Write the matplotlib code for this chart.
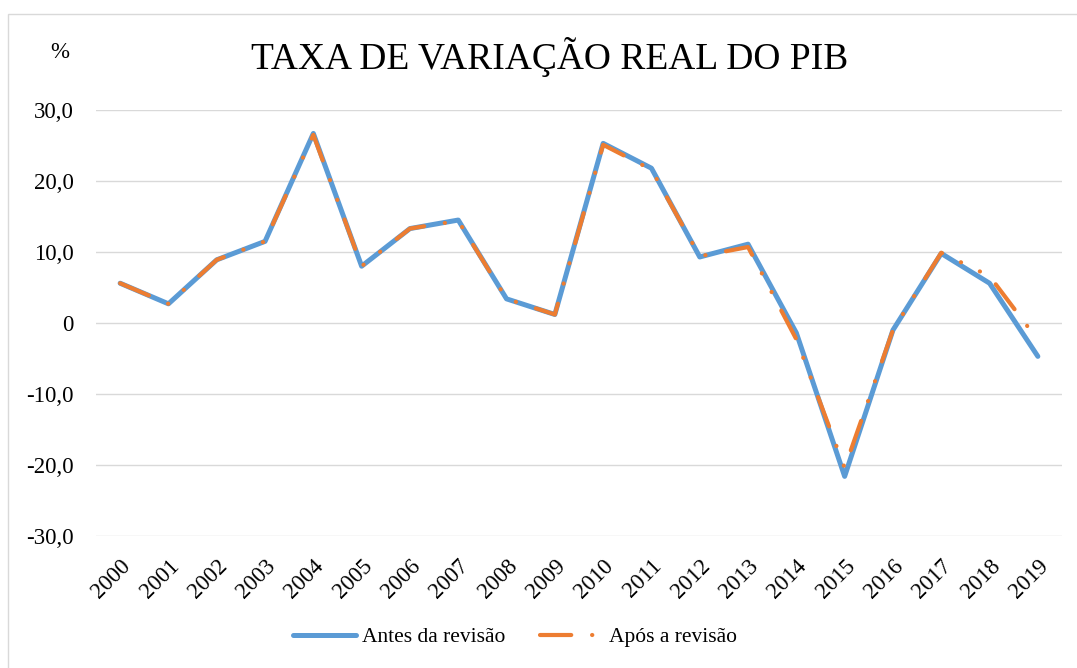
import matplotlib
matplotlib.use("Agg")
import matplotlib.pyplot as plt
from matplotlib.patches import Rectangle

plt.rcParams["font.family"] = ["Liberation Serif", "DejaVu Serif"]

years = [str(y) for y in range(2000, 2020)]
antes = [5.6, 2.7, 8.9, 11.5, 26.7, 8.0, 13.3, 14.5, 3.4, 1.2,
         25.3, 21.8, 9.3, 11.1, -1.4, -21.6, -1.0, 9.8, 5.6, -4.7]
apos = [5.6, 2.7, 8.9, 11.5, 26.5, 8.0, 13.3, 14.4, 3.4, 1.2,
        25.1, 21.6, 9.4, 10.7, -2.3, -20.4, -1.0, 9.9, 6.6, -2.4]
yticks = [-30, -20, -10, 0, 10, 20, 30]
ytick_labels = ["-30,0", "-20,0", "-10,0", "0", "10,0", "20,0", "30,0"]

BLUE = "#5B9BD5"
ORANGE = "#ED7D31"
GRID = "#D9D9D9"

fig = plt.figure(figsize=(10.77, 6.68), dpi=100)
# outer chart frame (only left/top edges fall inside the crop)
fig.patches.append(Rectangle((8 / 1077, -0.02), 1.05, 1 - 14 / 668 + 0.02,
                             transform=fig.transFigure, fill=False,
                             edgecolor=GRID, linewidth=1.0))

ax = fig.add_axes([96 / 1077, 1 - 536 / 668, (1062 - 96) / 1077, (536 - 110) / 668])
x = list(range(len(years)))
ax.plot(x, antes, color=BLUE, lw=3.6, solid_capstyle="round",
        solid_joinstyle="round", label="Antes da revisão", zorder=3)
ax.plot(x, apos, color=ORANGE, lw=3.0, linestyle=(0, (7.5, 5, 0.05, 5, 0.05, 5)),
        dash_capstyle="round", dash_joinstyle="round", label="Após a revisão", zorder=4)

ax.set_xlim(-0.5, len(years) - 0.5)
ax.set_ylim(-30, 30)
ax.set_yticks(yticks)
ax.set_yticklabels(ytick_labels, fontsize=16.5)
ax.set_xticks(x)
ax.set_xticklabels(years, fontsize=16.5, rotation=45, ha="right", rotation_mode="anchor")
ax.tick_params(axis="both", length=0)
ax.tick_params(axis="y", pad=16)
ax.tick_params(axis="x", pad=14)
ax.grid(axis="y", color=GRID, lw=1.0)
ax.set_axisbelow(True)
for s in ax.spines.values():
    s.set_visible(False)

fig.text(550 / 1077, 1 - 57 / 668, "TAXA DE VARIAÇÃO REAL DO PIB", fontsize=27,
         ha="center", va="center")
fig.text(60 / 1077, 1 - 53 / 668, "%", fontsize=16.5, ha="center", va="center")

fig.legend(loc="center", bbox_to_anchor=(515 / 1077, 1 - 637 / 668), ncol=2,
           frameon=False, fontsize=15.5, handlelength=2.9, handletextpad=0.3,
           columnspacing=1.6)

fig.savefig("out.png", dpi=100)
